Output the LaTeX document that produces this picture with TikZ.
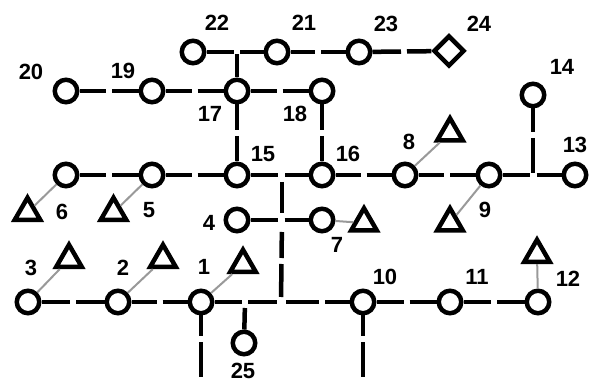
\documentclass[tikz,border=0pt]{standalone}
\usepackage{fontspec}
\setmainfont{Liberation Sans}
\usetikzlibrary{shapes.geometric,calc}
\newcommand\gapline[2]{%
  \draw[edge,shorten >=3pt] (#1) -- ($(#1)!0.5!(#2)$);
  \draw[edge,shorten <=3pt] ($(#1)!0.5!(#2)$) -- (#2);}
\begin{document}
\begin{tikzpicture}[x=1pt,y=-1pt,
  bus/.style={circle,draw,line width=4.5pt,minimum size=22.5pt,inner sep=0pt},
  tri/.style={regular polygon,regular polygon sides=3,draw,line width=4.5pt,minimum size=29.5pt,inner sep=0pt},
  dia/.style={diamond,draw,line width=4.5pt,minimum size=31pt,inner sep=0pt},
  edge/.style={line width=4.5pt},
  link/.style={line width=2pt,draw=black!40},
  lbl/.style={font=\fontsize{22}{22}\selectfont\bfseries,inner sep=0pt}]
\useasboundingbox (0,0) rectangle (590,382);
% buses
\node[bus] (n1) at (201,302) {};
\node[bus] (n2) at (118,302) {};
\node[bus] (n3) at (28,302) {};
\node[bus] (n4) at (237,220) {};
\node[bus] (n5) at (152,175) {};
\node[bus] (n6) at (66,175) {};
\node[bus] (n7) at (322,220) {};
\node[bus] (n8) at (405,175) {};
\node[bus] (n9) at (489,175) {};
\node[bus] (n10) at (363,302) {};
\node[bus] (n11) at (450,302) {};
\node[bus] (n12) at (538,302) {};
\node[bus] (n13) at (575,175) {};
\node[bus] (n14) at (533,95) {};
\node[bus] (n15) at (237,175) {};
\node[bus] (n16) at (322,175) {};
\node[bus] (n17) at (237,91) {};
\node[bus] (n18) at (322,91) {};
\node[bus] (n19) at (152,91) {};
\node[bus] (n20) at (66,91) {};
\node[bus] (n21) at (277,52) {};
\node[bus] (n22) at (193,52) {};
\node[bus] (n23) at (359,52) {};
\node[dia] (n24) at (449,51) {};
\node[bus] (n25) at (244,343) {};
% triangles
\node[tri] (t6) at (27.5,212.5) {};
\node[tri] (t5) at (113.5,212.5) {};
\node[tri] (t3) at (69,259.5) {};
\node[tri] (t2) at (163,259.5) {};
\node[tri] (t1) at (243,264.5) {};
\node[tri] (t7) at (364,223) {};
\node[tri] (t9) at (450,223) {};
\node[tri] (t12) at (537,254.5) {};
\node[tri] (t8) at (450,133) {};
% junctions and ends
\coordinate (J1) at (237,52);
\coordinate (J2) at (282,175);
\coordinate (J3) at (533,175);
\coordinate (J4) at (282,220);
\coordinate (J5) at (281,302);
\coordinate (J6) at (245,302);
\coordinate (E1) at (201,377);
\coordinate (E10) at (363,377);
% gray links
\draw[link] (n6) -- (t6);
\draw[link] (n5) -- (t5);
\draw[link] (n8) -- (t8);
\draw[link] (n9) -- (t9);
\draw[link] (n7) -- (t7);
\draw[link] (n3) -- (t3);
\draw[link] (n2) -- (t2);
\draw[link] (n1) -- (t1);
\draw[link] (n12) -- (t12);
% gapped lines
\gapline{n20}{n19}
\gapline{n19}{n17}
\gapline{n17}{n18}
\gapline{n17}{n15}
\gapline{n18}{n16}
\gapline{n21}{n23}
\gapline{n23}{n24}
\gapline{n6}{n5}
\gapline{n5}{n15}
\gapline{n16}{n8}
\gapline{n8}{n9}
\gapline{n3}{n2}
\gapline{n2}{n1}
\gapline{n10}{n11}
\gapline{n11}{n12}
\gapline{n1}{E1}
\gapline{n10}{E10}
\draw[edge,shorten >=3pt] (n14) -- ($(n14)!.5!(J3)$);
\draw[edge,shorten <=3pt,shorten >=2pt] ($(n14)!.5!(J3)$) -- (J3);
\draw[edge,shorten <=12pt,shorten >=3pt] (J4) -- ($(J4)!.5!(J5)$);
\draw[edge,shorten <=3pt,shorten >=5pt] ($(J4)!.5!(J5)$) -- (J5);
\draw[edge,shorten <=5pt,shorten >=3pt] (J5) -- ($(J5)!.5!(n10)$);
\draw[edge,shorten <=3pt] ($(J5)!.5!(n10)$) -- (n10);
% solid lines at junctions
\draw[edge,shorten >=3.5pt] (n22) -- (J1);
\draw[edge,shorten <=3pt] (J1) -- (n21);
\draw[edge,shorten <=2.5pt] (J1) -- (n17);
\draw[edge,shorten >=4pt] (n15) -- (J2);
\draw[edge,shorten <=3pt] (J2) -- (n16);
\draw[edge,shorten <=7pt,shorten >=7pt] (J2) -- (J4);
\draw[edge,shorten >=4pt] (n4) -- (J4);
\draw[edge,shorten <=2.5pt] (J4) -- (n7);
\draw[edge,shorten >=3pt] (n1) -- (J6);
\draw[edge,shorten <=3pt,shorten >=4pt] (J6) -- (J5);
\draw[edge,shorten <=6pt] (J6) -- (n25);
\draw[edge,shorten >=3.5pt] (n9) -- (J3);
\draw[edge,shorten <=3.5pt] (J3) -- (n13);
% labels
\node[lbl] (l22) at (217,23) {22};
\node[lbl] (l21) at (304,23) {21};
\node[lbl] (l23) at (386,24) {23};
\node[lbl] (l24) at (479,24) {24};
\node[lbl] (l20) at (31,72) {20};
\node[lbl] (l19) at (123,71) {19};
\node[lbl] (l17) at (210,114) {17};
\node[lbl] (l18) at (295,114) {18};
\node[lbl] (l14) at (562,67) {14};
\node[lbl] (l15) at (263,154) {15};
\node[lbl] (l16) at (348,154) {16};
\node[lbl] (l8) at (409,142) {8};
\node[lbl] (l13) at (575,145) {13};
\node[lbl] (l6) at (62,212) {6};
\node[lbl] (l5) at (149,210) {5};
\node[lbl] (l4) at (209,223) {4};
\node[lbl] (l7) at (337,245) {7};
\node[lbl] (l9) at (485,210) {9};
\node[lbl] (l3) at (31,268) {3};
\node[lbl] (l2) at (123,268) {2};
\node[lbl] (l1) at (204,267) {1};
\node[lbl] (l10) at (385,277) {10};
\node[lbl] (l11) at (477,277) {11};
\node[lbl] (l12) at (568,279) {12};
\node[lbl] (l25) at (243,371) {25};
\end{tikzpicture}
\end{document}
